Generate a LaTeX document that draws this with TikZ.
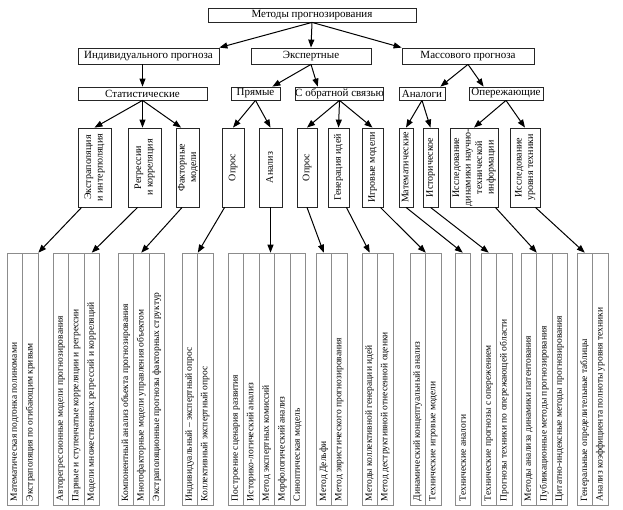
\documentclass[tikz,border=0pt]{standalone}
\usepackage{fontspec}
\setmainfont{Liberation Serif}
\usepackage{graphicx}
\usetikzlibrary{arrows.meta}

\newcommand{\vlines}[1]{\rotatebox{90}{\begin{tabular}{@{}c@{}}#1\end{tabular}}}
\newcommand{\vcell}[1]{\rotatebox{90}{\makebox[244pt][l]{#1}}}

\begin{document}
\begin{tikzpicture}[
    x=1pt, y=-1pt,
    box/.style={draw=black!85, line width=0.8pt, inner sep=0pt,
                font=\fontsize{11}{13}\selectfont},
    vbox/.style={draw=black!85, line width=0.8pt, inner sep=0pt,
                 minimum height=79pt, font=\fontsize{10}{11.5}\selectfont},
    cell/.style={draw=black!45, line width=0.6pt, inner sep=0pt,
                 minimum width=15.5pt, minimum height=252pt,
                 font=\fontsize{9.5}{11}\selectfont},
    flow/.style={-{Triangle[length=8pt, width=6pt]}, line width=1pt},
]
    \useasboundingbox (0,0) rectangle (623,510);

    % upper levels
    \node[box, minimum width=208pt, minimum height=14pt] (methods) at (312,15) {Методы прогнозирования};
    \node[box, minimum width=141pt, minimum height=16pt] (indiv) at (148.5,56) {Индивидуального прогноза};
    \node[box, minimum width=120pt, minimum height=16pt] (expert) at (311,56) {Экспертные};
    \node[box, minimum width=132pt, minimum height=16pt] (mass) at (468,56) {Массового прогноза};
    \node[box, minimum width=129pt, minimum height=13pt] (stat) at (142.5,93.5) {Статистические};
    \node[box, minimum width=49pt, minimum height=13pt] (direct) at (255.5,93.5) {Прямые};
    \node[box, minimum width=85pt, minimum height=13pt] (fb) at (339.5,93.5) {С обратной связью};
    \node[box, minimum width=46pt, minimum height=13pt] (analogs) at (422,93.5) {Аналоги};
    \node[box, minimum width=74pt, minimum height=13pt] (lead) at (506,93.5) {Опережающие};

    % vertical boxes
    \node[vbox, minimum width=33pt] (extra) at (94.5,167.5) {\vlines{Экстраполяция\\и интерполяция}};
    \node[vbox, minimum width=33pt] (regr) at (144.5,167.5) {\vlines{Регрессии\\и корреляция}};
    \node[vbox, minimum width=22pt] (fact) at (188,167.5) {\vlines{Факторные\\модели}};
    \node[vbox, minimum width=22pt] (poll1) at (233,167.5) {\vlines{Опрос}};
    \node[vbox, minimum width=23pt] (analysis) at (270.5,167.5) {\vlines{Анализ}};
    \node[vbox, minimum width=20pt] (poll2) at (307,167.5) {\vlines{Опрос}};
    \node[vbox, minimum width=21pt] (gen) at (338.5,167.5) {\vlines{Генерация идей}};
    \node[vbox, minimum width=21pt] (game) at (372.5,167.5) {\vlines{Игровые модели}};
    \node[vbox, minimum width=14pt] (math) at (406,167.5) {\vlines{Математические}};
    \node[vbox, minimum width=15pt] (hist) at (430.5,167.5) {\vlines{Историческое}};
    \node[vbox, minimum width=48pt] (dyn) at (474,167.5) {\vlines{Исследование\\динамики научно-\\технической\\информации}};
    \node[vbox, minimum width=30pt] (lvl) at (525,167.5) {\vlines{Исследование\\уровня техники}};

    % method columns
    \node[cell] (g1a) at (14.75,379) {\vcell{Математическая подгонка полиномами}};
    \node[cell] (g1b) at (30.25,379) {\vcell{Экстраполяция по огибающим кривым}};
    \node[cell] (g2a) at (60.75,379) {\vcell{Авторегрессионные модели прогнозирования}};
    \node[cell] (g2b) at (76.25,379) {\vcell{Парные и ступенчатые корреляции и регрессии}};
    \node[cell] (g2c) at (91.75,379) {\vcell{Модели множественных регрессий и корреляций}};
    \node[cell] (g3a) at (125.75,379) {\vcell{Компонентный анализ объекта прогнозирования}};
    \node[cell] (g3b) at (141.25,379) {\vcell{Многофакторные модели управления объектом}};
    \node[cell] (g3c) at (156.75,379) {\vcell{Экстраполяционные прогнозы факторных структур}};
    \node[cell] (g4a) at (189.75,379) {\vcell{Индивидуальный – экспертный опрос}};
    \node[cell] (g4b) at (205.25,379) {\vcell{Коллективный экспертный опрос}};
    \node[cell] (g5a) at (235.75,379) {\vcell{Построение сценария развития}};
    \node[cell] (g5b) at (251.25,379) {\vcell{Историко-логический анализ}};
    \node[cell] (g5c) at (266.75,379) {\vcell{Метод экспертных комиссий}};
    \node[cell] (g5d) at (282.25,379) {\vcell{Морфологический анализ}};
    \node[cell] (g5e) at (297.75,379) {\vcell{Синоптическая модель}};
    \node[cell] (g6a) at (323.75,379) {\vcell{Метод Дельфи}};
    \node[cell] (g6b) at (339.25,379) {\vcell{Метод эвристического прогнозирования}};
    \node[cell] (g7a) at (369.75,379) {\vcell{Методы коллективной генерации идей}};
    \node[cell] (g7b) at (385.25,379) {\vcell{Метод деструктивной отнесенной оценки}};
    \node[cell] (g8a) at (417.75,379) {\vcell{Динамический концептуальный анализ}};
    \node[cell] (g8b) at (433.25,379) {\vcell{Технические игровые модели}};
    \node[cell] (g9a) at (462.75,379) {\vcell{Технические аналоги}};
    \node[cell] (g10a) at (488.75,379) {\vcell{Технические прогнозы с опережением}};
    \node[cell] (g10b) at (504.25,379) {\vcell{Прогнозы техники по опережающей области}};
    \node[cell] (g11a) at (528.75,379) {\vcell{Методы анализа динамики патентования}};
    \node[cell] (g11b) at (544.25,379) {\vcell{Публикационные методы прогнозирования}};
    \node[cell] (g11c) at (559.75,379) {\vcell{Цитатно-индексные методы прогнозирования}};
    \node[cell] (g12a) at (584.75,379) {\vcell{Генеральные определительные таблицы}};
    \node[cell] (g12b) at (600.25,379) {\vcell{Анализ коэффициента полноты уровня техники}};

    \draw[flow] (methods.south) -- (indiv.north east);
    \draw[flow] (methods.south) -- (expert.north);
    \draw[flow] (methods.south) -- (mass.north west);
    \draw[flow] (stat.north |- indiv.south) -- (stat.north);
    \draw[flow] (expert.south) -- ([xshift=-8pt]direct.north east);
    \draw[flow] (expert.south) -- ([xshift=23pt]fb.north west);
    \draw[flow] (mass.south) -- ([xshift=-5pt]analogs.north east);
    \draw[flow] (mass.south) -- ([xshift=15pt]lead.north west);

    \draw[flow] (stat.south) -- (extra.north);
    \draw[flow] (stat.south) -- (stat.south |- regr.north);
    \draw[flow] (stat.south) -- ([xshift=5pt]fact.north west);
    \draw[flow] (direct.south) -- (poll1.north);
    \draw[flow] (direct.south) -- (analysis.north);
    \draw[flow] (fb.south) -- (poll2.north);
    \draw[flow] (fb.south) -- (gen.north);
    \draw[flow] (fb.south) -- (game.north);
    \draw[flow] (analogs.south) -- (math.north);
    \draw[flow] (analogs.south) -- (hist.north);
    \draw[flow] (lead.south) -- (dyn.north);
    \draw[flow] (lead.south) -- (lvl.north);

    \draw[flow] ([xshift=4pt]extra.south west) -- (g1b.north east);
    \draw[flow] ([xshift=10pt]regr.south west) -- (g2c.north);
    \draw[flow] ([xshift=6pt]fact.south west) -- (g3b.north);
    \draw[flow] ([xshift=3pt]poll1.south west) -- (g4a.north east);
    \draw[flow] (analysis.south) -- (analysis.south |- g5c.north);
    \draw[flow] (poll2.south) -- (g6a.north);
    \draw[flow] ([xshift=-3pt]gen.south east) -- (g7a.north);
    \draw[flow] ([xshift=-3pt]game.south east) -- (g8a.north east);
    \draw[flow] (math.south) -- (g9a.north);
    \draw[flow] (hist.south) -- (g10a.north);
    \draw[flow] ([xshift=-3pt]dyn.south east) -- (g11a.north east);
    \draw[flow] ([xshift=-5pt]lvl.south east) -- (g12a.north);
\end{tikzpicture}
\end{document}
